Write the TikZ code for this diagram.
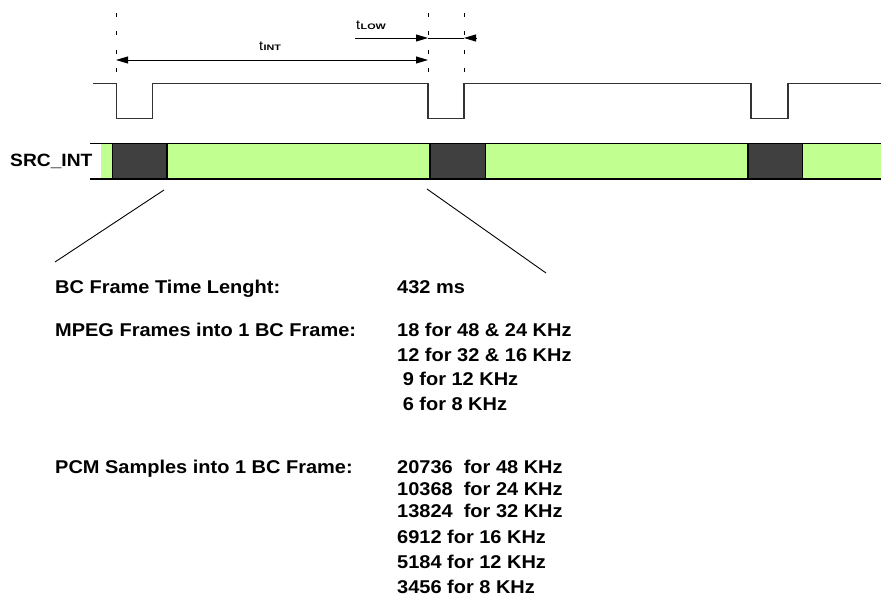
\documentclass[tikz,border=0pt]{standalone}
\usepackage{fontspec}
\usetikzlibrary{arrows.meta}
\newfontfamily\lblfont{Liberation Sans}[FakeStretch=1.08]
\newfontfamily\subfont{Liberation Sans}[FakeStretch=1.35]
\definecolor{barGreen}{HTML}{C0FF90}
\definecolor{blockGray}{HTML}{404040}
\definecolor{waveGray}{HTML}{333333}
\tikzset{
  guide/.style={line width=0.9pt, dash pattern=on 4pt off 14.3pt},
  dim/.style={line width=0.9pt},
  wave/.style={line width=1.2pt, draw=waveGray},
  barline/.style={line width=1.4pt},
  block/.style={fill=blockGray, draw=black, line width=1.2pt},
  lead/.style={line width=0.9pt},
  txt/.style={anchor=base west, inner sep=0pt, font=\lblfont\bfseries\fontsize{18.5}{20}\selectfont},
  sigtxt/.style={anchor=base west, inner sep=0pt, font=\lblfont\bfseries\fontsize{17.8}{20}\selectfont},
  tsym/.style={anchor=base west, inner sep=0pt, font=\lblfont\fontsize{13.5}{14}\selectfont},
  tsub/.style={anchor=base west, inner sep=0pt, font=\subfont\bfseries\fontsize{8}{9}\selectfont}
}
\begin{document}
\begin{tikzpicture}[x=1pt,y=-1pt]
\useasboundingbox (0,0) rectangle (881,604);
% guide lines
\coordinate (g1t) at (116,13); \coordinate (g1b) at (116,74);
\coordinate (g2t) at (428,13); \coordinate (g2b) at (428,74);
\coordinate (g3t) at (464,13); \coordinate (g3b) at (464,74);
\draw[guide] (g1t) -- (g1b);
\draw[guide] (g2t) -- (g2b);
\draw[guide] (g3t) -- (g3b);
% t_INT
\coordinate (ia) at (116,60); \coordinate (ib) at (428,60);
\draw[dim,{Triangle[length=12pt,width=7pt]}-{Triangle[length=12pt,width=7pt]}] (ia) -- (ib);
\node[tsym] (tint) at (259,50.5) {t};
\node[tsub] (tintsub) at (tint.base east) {INT};
% t_LOW
\coordinate (la) at (355,38); \coordinate (lb) at (428,38);
\coordinate (lc) at (464,38); \coordinate (ld) at (477,38);
\draw[dim,-{Triangle[length=12pt,width=7pt]}] (la) -- (lb);
\draw[dim] (lb) -- (lc);
\draw[dim,{Triangle[length=12pt,width=7pt]}-] (lc) -- (ld);
\node[tsym] (tlow) at (356,30) {t};
\node[tsub] (tlowsub) at (tlow.base east) {LOW};
% square wave
\draw[wave] (93,83.5) -- (116.5,83.5) -- (116.5,118.5) -- (152.5,118.5) -- (152.5,83.5)
  -- (428,83.5) -- (428,118.5) -- (464,118.5) -- (464,83.5)
  -- (751,83.5) -- (751,118.5) -- (788,118.5) -- (788,83.5) -- (881,83.5);
% bar
\fill[barGreen] (101,143.5) rectangle (881,179);
\draw[barline] (90,143.5) -- (881,143.5);
\draw[barline] (90,179) -- (881,179);
\draw[block] (112.5,143.5) rectangle (167,179);
\draw[block] (430,143.5) rectangle (485.5,179);
\draw[block] (748,143.5) rectangle (802.5,179);
\node[sigtxt] (src) at (10,167) {SRC\_INT};
% leads
\coordinate (l1a) at (164,190); \coordinate (l1b) at (55,262);
\coordinate (l2a) at (427,189); \coordinate (l2b) at (546,273);
\draw[lead] (l1a) -- (l1b);
\draw[lead] (l2a) -- (l2b);
% text
\node[txt] (bc) at (55,293) {BC Frame Time Lenght:};
\node[txt] (bcv) at (397,293) {432 ms};
\node[txt] (mp) at (55,336) {MPEG Frames into 1 BC Frame:};
\node[txt] (mp1) at (397,336) {18 for 48 \& 24 KHz};
\node[txt] (mp2) at (397,361) {12 for 32 \& 16 KHz};
\node[txt] (mp3) at (397,385) {\ 9 for 12 KHz};
\node[txt] (mp4) at (397,410) {\ 6 for 8 KHz};
\node[txt] (pcm) at (55,473.5) {PCM Samples into 1 BC Frame:};
\node[txt] (p1) at (397,473.5) {20736\ \ for 48 KHz};
\node[txt] (p2) at (397,495) {10368\ \ for 24 KHz};
\node[txt] (p3) at (397,517) {13824\ \ for 32 KHz};
\node[txt] (p4) at (397,543) {6912 for 16 KHz};
\node[txt] (p5) at (397,568) {5184 for 12 KHz};
\node[txt] (p6) at (397,593) {3456 for 8 KHz};
\end{tikzpicture}
\end{document}
